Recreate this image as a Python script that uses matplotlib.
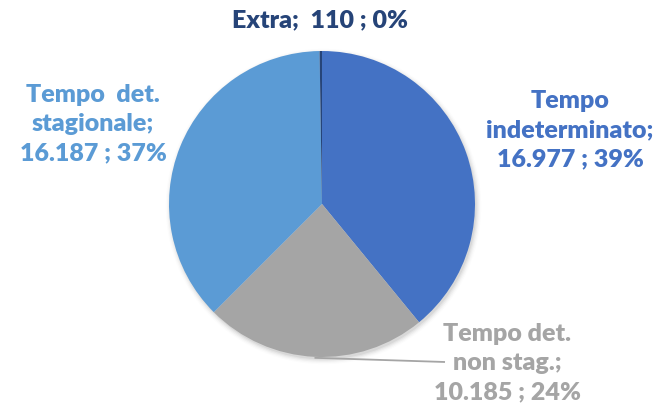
import numpy as np
import matplotlib
matplotlib.use("Agg")
import matplotlib.pyplot as plt

categories = ["Tempo\nindeterminato", "Tempo det.\nnon stag.", "Tempo  det.\nstagionale", "Extra"]
values = [16977, 10185, 16187, 110]
value_labels = ["16.977", "10.185", "16.187", "110"]
pct_labels = ["39%", "24%", "37%", "0%"]
colors = ["#4472C4", "#A5A5A5", "#5B9BD5", "#264478"]

W, H = 657, 406
fig = plt.figure(figsize=(W / 100, H / 100), dpi=100)
ax = fig.add_axes([0, 0, 1, 1])
ax.set_xlim(0, W)
ax.set_ylim(0, H)
ax.axis("off")

cx, cy, r = 322, H - 205, 153

# subtle shadow
for i, a in enumerate(np.linspace(0.05, 0.01, 5)):
    sh = plt.Circle((cx + 1.5, cy - 2.5), r + i * 1.2, color="black", alpha=a, lw=0, zorder=0)
    ax.add_patch(sh)

wedges, _ = ax.pie(values, colors=colors, startangle=90, counterclock=False,
                   center=(cx, cy), radius=r, frame=False,
                   wedgeprops=dict(linewidth=0, zorder=2))
ax.set_xlim(0, W)
ax.set_ylim(0, H)
ax.set_aspect("equal")

font = dict(family=["Lato", "DejaVu Sans"], weight="heavy", fontsize=18)

# label positions (pixel coords, y from top)
pos = [(570, 130), (507, 363), (93, 124), (320, 20)]
label_texts = [
    f"Tempo\nindeterminato;\n{value_labels[0]} ; {pct_labels[0]}",
    f"Tempo det.\nnon stag.;\n{value_labels[1]} ; {pct_labels[1]}",
    f"Tempo  det.\nstagionale;\n{value_labels[2]} ; {pct_labels[2]}",
    f"Extra;  {value_labels[3]} ; {pct_labels[3]}",
]
for txt, (x, y), c in zip(label_texts, pos, colors):
    ax.text(x, H - y, txt, ha="center", va="center", color=c,
            linespacing=1.4, zorder=5, **font)

# leader line for the gray slice
w = wedges[1]
mid = np.deg2rad((w.theta1 + w.theta2) / 2)
sx, sy = cx + r * np.cos(mid), cy + r * np.sin(mid)
ax.plot([sx, 445], [sy - 1, H - 363], color="#A5A5A5", lw=1.3, zorder=1,
        solid_capstyle="butt")

fig.savefig("out.png", dpi=100, facecolor="white")
